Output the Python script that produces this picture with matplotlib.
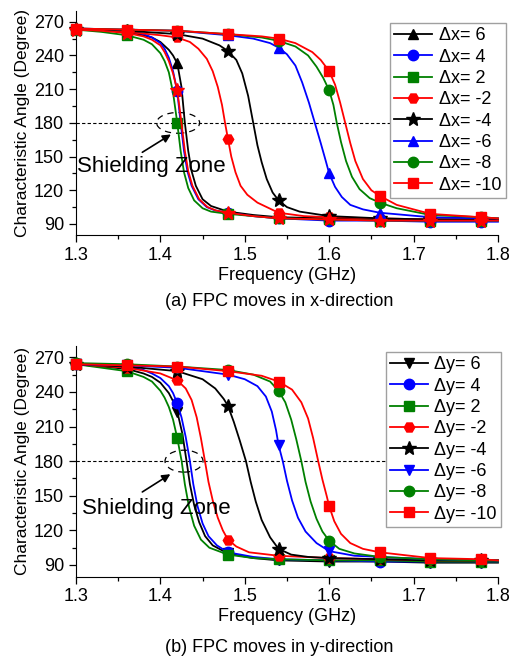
import matplotlib
matplotlib.use("Agg")
import matplotlib.pyplot as plt
from matplotlib.patches import Ellipse
from matplotlib.ticker import MultipleLocator

plt.rcParams['font.family'] = ['Liberation Sans', 'DejaVu Sans']

# marker frequencies (GHz)
marker_freqs = [1.30, 1.36, 1.42, 1.48, 1.54, 1.60, 1.66, 1.72, 1.78]

# ---- (a) FPC moves in x-direction ----
x_labels = ["\u0394x= 6", "\u0394x= 4", "\u0394x= 2", "\u0394x= -2",
            "\u0394x= -4", "\u0394x= -6", "\u0394x= -8", "\u0394x= -10"]

ax6_f = [1.30, 1.33, 1.36, 1.38, 1.39, 1.40, 1.41, 1.415, 1.42, 1.425, 1.429, 1.433, 1.437, 1.442, 1.45, 1.46, 1.48, 1.51, 1.54, 1.60, 1.66, 1.72, 1.78, 1.80]
ax6_v = [264, 263, 261, 258, 256, 252, 245, 240, 233, 212, 180, 155, 137, 124, 112, 106, 101, 98, 96, 95, 94, 94, 94, 94]
ax4_f = [1.30, 1.33, 1.36, 1.38, 1.39, 1.40, 1.405, 1.41, 1.415, 1.42, 1.424, 1.428, 1.432, 1.437, 1.445, 1.455, 1.465, 1.48, 1.51, 1.54, 1.60, 1.66, 1.72, 1.78, 1.80]
ax4_v = [264, 263, 262, 259, 256, 251, 246, 238, 226, 208, 180, 155, 137, 124, 112, 105, 102, 100, 97, 95, 93, 93, 92, 92, 92]
ax2_f = [1.30, 1.33, 1.36, 1.38, 1.39, 1.40, 1.405, 1.41, 1.415, 1.42, 1.424, 1.428, 1.433, 1.44, 1.45, 1.46, 1.48, 1.51, 1.54, 1.60, 1.66, 1.72, 1.78, 1.80]
ax2_v = [263, 261, 258, 254, 250, 242, 235, 225, 207, 180, 155, 136, 122, 111, 104, 101, 99, 97, 95, 94, 93, 93, 93, 93]
axm2_f = [1.30, 1.36, 1.40, 1.42, 1.435, 1.445, 1.455, 1.462, 1.468, 1.473, 1.4766, 1.48, 1.484, 1.489, 1.495, 1.503, 1.515, 1.54, 1.57, 1.60, 1.66, 1.72, 1.78, 1.80]
axm2_v = [264, 261, 258, 256, 252, 246, 237, 226, 212, 196, 180, 166, 150, 136, 124, 116, 109, 100, 97, 96, 95, 94, 94, 94]
axm4_f = [1.30, 1.36, 1.42, 1.45, 1.47, 1.48, 1.49, 1.497, 1.504, 1.51, 1.515, 1.52, 1.526, 1.533, 1.54, 1.55, 1.565, 1.60, 1.66, 1.72, 1.78, 1.80]
axm4_v = [264, 262, 259, 255, 249, 244, 236, 224, 204, 180, 160, 145, 130, 118, 111, 105, 101, 97, 95, 94, 94, 94]
axm6_f = [1.30, 1.36, 1.42, 1.48, 1.51, 1.53, 1.54, 1.55, 1.56, 1.568, 1.576, 1.583, 1.59, 1.596, 1.60, 1.607, 1.615, 1.625, 1.64, 1.66, 1.72, 1.78, 1.80]
axm6_v = [264, 263, 262, 258, 255, 251, 247, 241, 231, 216, 198, 180, 162, 146, 135, 123, 114, 107, 103, 100, 96, 95, 95]
axm8_f = [1.30, 1.36, 1.42, 1.48, 1.52, 1.54, 1.56, 1.575, 1.585, 1.593, 1.60, 1.605, 1.609, 1.614, 1.62, 1.627, 1.636, 1.648, 1.66, 1.68, 1.72, 1.78, 1.80]
axm8_v = [264, 263, 262, 259, 256, 253, 248, 240, 230, 220, 209, 196, 180, 163, 146, 132, 121, 113, 109, 104, 98, 96, 95]
axm10_f = [1.30, 1.36, 1.42, 1.48, 1.52, 1.54, 1.56, 1.58, 1.59, 1.60, 1.607, 1.613, 1.619, 1.625, 1.631, 1.64, 1.65, 1.66, 1.68, 1.72, 1.78, 1.80]
axm10_v = [264, 263, 262, 259, 257, 255, 251, 243, 236, 226, 214, 198, 180, 162, 146, 130, 120, 115, 107, 99, 96, 95]
# extra red-star trace shown in panel (a) without a legend entry
ax_star_f = [1.30, 1.33, 1.36, 1.38, 1.39, 1.40, 1.405, 1.41, 1.415, 1.42, 1.425, 1.429, 1.433, 1.438, 1.446, 1.456, 1.466, 1.48, 1.51, 1.54, 1.60, 1.66, 1.72, 1.78, 1.80]
ax_star_v = [263, 262, 260, 257, 254, 249, 243, 235, 224, 209, 180, 155, 137, 124, 112, 105, 102, 100, 97, 95, 94, 93, 93, 93, 93]

# ---- (b) FPC moves in y-direction ----
y_labels = ["\u0394y= 6", "\u0394y= 4", "\u0394y= 2", "\u0394y= -2",
            "\u0394y= -4", "\u0394y= -6", "\u0394y= -8", "\u0394y= -10"]

ay6_f = [1.30, 1.33, 1.36, 1.38, 1.39, 1.40, 1.41, 1.415, 1.42, 1.426, 1.431, 1.435, 1.44, 1.446, 1.453, 1.462, 1.48, 1.51, 1.54, 1.60, 1.66, 1.72, 1.78, 1.80]
ay6_v = [264, 262, 260, 256, 253, 248, 239, 232, 223, 204, 180, 160, 142, 127, 115, 107, 100, 96, 94, 93, 93, 92, 92, 92]
ay4_f = [1.30, 1.33, 1.36, 1.38, 1.39, 1.40, 1.41, 1.415, 1.42, 1.425, 1.43, 1.435, 1.439, 1.444, 1.45, 1.457, 1.467, 1.48, 1.51, 1.54, 1.60, 1.66, 1.72, 1.78, 1.80]
ay4_v = [264, 263, 262, 259, 256, 252, 245, 239, 230, 218, 201, 180, 160, 141, 126, 115, 107, 101, 97, 95, 94, 93, 93, 93, 93]
ay2_f = [1.30, 1.33, 1.36, 1.38, 1.39, 1.40, 1.405, 1.41, 1.415, 1.42, 1.4252, 1.429, 1.434, 1.44, 1.448, 1.458, 1.48, 1.51, 1.54, 1.60, 1.66, 1.72, 1.78, 1.80]
ay2_v = [264, 261, 258, 253, 249, 241, 235, 227, 216, 200, 180, 160, 140, 124, 112, 105, 99, 96, 95, 94, 94, 93, 93, 93]
aym2_f = [1.30, 1.36, 1.40, 1.42, 1.43, 1.437, 1.443, 1.448, 1.4528, 1.457, 1.462, 1.468, 1.474, 1.48, 1.49, 1.505, 1.54, 1.60, 1.66, 1.72, 1.78, 1.80]
aym2_v = [264, 261, 256, 250, 243, 233, 218, 200, 180, 162, 146, 131, 120, 112, 106, 101, 98, 96, 95, 94, 94, 94]
aym4_f = [1.30, 1.36, 1.42, 1.45, 1.465, 1.475, 1.48, 1.487, 1.494, 1.5014, 1.507, 1.513, 1.52, 1.53, 1.54, 1.555, 1.575, 1.60, 1.66, 1.72, 1.78, 1.80]
aym4_v = [264, 262, 258, 251, 243, 234, 228, 214, 198, 180, 162, 145, 129, 114, 104, 99, 97, 96, 95, 94, 94, 94]
aym6_f = [1.30, 1.36, 1.42, 1.48, 1.50, 1.515, 1.525, 1.532, 1.537, 1.54, 1.545, 1.55, 1.556, 1.563, 1.572, 1.585, 1.60, 1.63, 1.66, 1.72, 1.78, 1.80]
aym6_v = [264, 263, 261, 255, 251, 245, 236, 223, 207, 194, 180, 163, 146, 131, 119, 109, 102, 98, 97, 95, 94, 94]
aym8_f = [1.30, 1.36, 1.42, 1.48, 1.51, 1.53, 1.54, 1.548, 1.555, 1.561, 1.567, 1.572, 1.578, 1.585, 1.592, 1.60, 1.612, 1.63, 1.66, 1.72, 1.78, 1.80]
aym8_v = [265, 264, 262, 259, 255, 249, 241, 231, 216, 199, 180, 162, 145, 130, 119, 111, 104, 100, 97, 95, 94, 94]
aym10_f = [1.30, 1.36, 1.42, 1.48, 1.52, 1.54, 1.556, 1.567, 1.575, 1.581, 1.587, 1.592, 1.597, 1.60, 1.606, 1.614, 1.625, 1.64, 1.66, 1.72, 1.78, 1.80]
aym10_v = [264, 263, 262, 258, 254, 249, 242, 231, 217, 200, 180, 164, 150, 141, 128, 117, 109, 104, 101, 96, 95, 94]

colors = ['black', 'blue', 'green', 'red', 'black', 'blue', 'green', 'red']
markers_a = ['^', 'o', 's', 'H', '*', '^', 'o', 's']
markers_b = ['v', 'o', 's', 'H', '*', 'v', 'o', 's']

series_a = [(ax6_f, ax6_v), (ax4_f, ax4_v), (ax2_f, ax2_v), (axm2_f, axm2_v),
            (axm4_f, axm4_v), (axm6_f, axm6_v), (axm8_f, axm8_v), (axm10_f, axm10_v)]
series_b = [(ay6_f, ay6_v), (ay4_f, ay4_v), (ay2_f, ay2_v), (aym2_f, aym2_v),
            (aym4_f, aym4_v), (aym6_f, aym6_v), (aym8_f, aym8_v), (aym10_f, aym10_v)]


def mark_idx(freqs):
    return [i for i, f in enumerate(freqs) if any(abs(f - m) < 1e-6 for m in marker_freqs)]


def draw_curve(ax, f, v, color, marker, label):
    ms = 10 if marker == '*' else 7.5
    ax.plot(f, v, color=color, lw=1.3, marker=marker, ms=ms, markevery=mark_idx(f),
            label=label, clip_on=False, zorder=3)


def setup_axes(ax):
    ax.set_xlim(1.3, 1.8)
    ax.set_ylim(80, 280)
    ax.xaxis.set_major_locator(MultipleLocator(0.1))
    ax.xaxis.set_minor_locator(MultipleLocator(0.05))
    ax.yaxis.set_major_locator(MultipleLocator(30))
    ax.yaxis.set_minor_locator(MultipleLocator(15))
    ax.set_yticks([90, 120, 150, 180, 210, 240, 270])
    ax.spines['top'].set_visible(False)
    ax.spines['right'].set_visible(False)
    ax.tick_params(which='major', direction='out', length=5, width=0.9, labelsize=13)
    ax.tick_params(which='minor', direction='out', length=3, width=0.9)
    ax.set_xlabel('Frequency (GHz)', fontsize=13, labelpad=2)
    ax.set_ylabel('Characteristic Angle (Degree)', fontsize=12.5, labelpad=3)
    ax.axhline(180, color='black', lw=0.8, ls=(0, (3, 2)), zorder=1)


fig = plt.figure(figsize=(5.11, 6.62), dpi=100)
ax_a = fig.add_axes([0.1487, 0.6447, 0.8258, 0.3394])
ax_b = fig.add_axes([0.1487, 0.1291, 0.8258, 0.3486])

for ax in (ax_a, ax_b):
    setup_axes(ax)

for (f, v), c, m, lab in zip(series_a, colors, markers_a, x_labels):
    draw_curve(ax_a, f, v, c, m, lab)
draw_curve(ax_a, ax_star_f, ax_star_v, 'red', '*', '_nolegend_')

for (f, v), c, m, lab in zip(series_b, colors, markers_b, y_labels):
    draw_curve(ax_b, f, v, c, m, lab)

# shielding zone annotations
ax_a.add_patch(Ellipse((1.421, 180), 0.051, 18.5, fill=False, ec='black', lw=0.9,
                       ls=(0, (5, 4)), zorder=2))
ax_a.annotate('', xy=(1.4153, 171), xytext=(1.3758, 152.5),
              arrowprops=dict(arrowstyle='-|>', color='black', lw=1.2, mutation_scale=12))
ax_a.text(1.3016, 141.2, 'Shielding Zone', fontsize=16, va='center', ha='left', zorder=4)

ax_b.add_patch(Ellipse((1.428, 180), 0.045, 19, fill=False, ec='black', lw=0.9,
                       ls=(0, (5, 4)), zorder=2))
ax_b.annotate('', xy=(1.4146, 170), xytext=(1.3758, 152),
              arrowprops=dict(arrowstyle='-|>', color='black', lw=1.2, mutation_scale=12))
ax_b.text(1.3067, 139, 'Shielding Zone', fontsize=16, va='center', ha='left', zorder=4)

leg_kw = dict(loc='upper left', fontsize=13, numpoints=1, handlelength=2.1,
              handletextpad=0.35, labelspacing=0.24, borderpad=0.25, borderaxespad=0,
              fancybox=False, framealpha=1, edgecolor='#a0a0a0',
              bbox_transform=fig.transFigure)
la = ax_a.legend(bbox_to_anchor=(0.763, 0.9657), **leg_kw)
lb = ax_b.legend(bbox_to_anchor=(0.7548, 0.4687), **leg_kw)
for lg in (la, lb):
    lg.get_frame().set_linewidth(1.0)
    lg.set_zorder(10)

fig.text(0.546, 1 - 301 / 662, '(a) FPC moves in x-direction', fontsize=13,
         ha='center', va='center')
fig.text(0.546, 1 - 647 / 662, '(b) FPC moves in y-direction', fontsize=13,
         ha='center', va='center')

fig.savefig('out.png', dpi=100)
